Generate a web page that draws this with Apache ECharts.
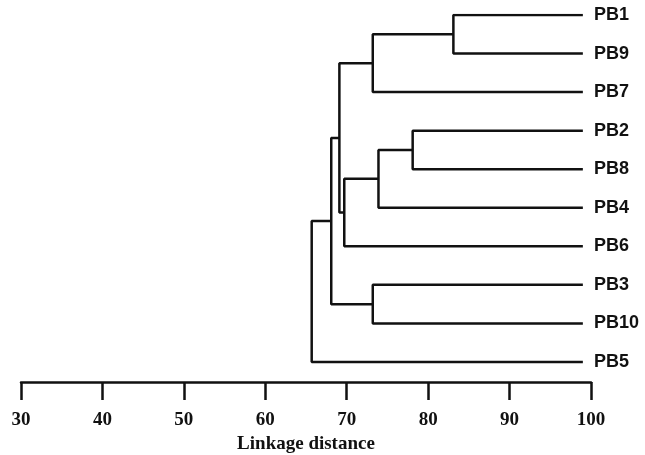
<!DOCTYPE html>
<html>
<head>
<meta charset="utf-8">
<script src="https://cdn.jsdelivr.net/npm/echarts@6/dist/echarts.min.js"></script>
<style>
  html, body { margin: 0; padding: 0; background: #fff; }
  #main { width: 645px; height: 455px; }
</style>
</head>
<body>
<div id="main"></div>
<script>
// leaves, top to bottom
var leafNames = ['PB1', 'PB9', 'PB7', 'PB2', 'PB8', 'PB4', 'PB6', 'PB3', 'PB10', 'PB5'];
var leafEnd = 99;
// merges: index < 10 is a leaf, 10+ is an earlier merge
var mergeLeft   = [0, 10, 3, 12, 13, 11, 7, 15, 17];
var mergeRight  = [1, 2, 4, 5, 6, 14, 8, 16, 9];
var mergeHeight = [83.1, 73.2, 78.1, 73.9, 69.7, 69.1, 73.2, 68.1, 65.7];
var xTicks = [30, 100, 10];

var nodeX = [], nodeY = [];
for (var i = 0; i < leafNames.length; i++) { nodeX.push(leafEnd); nodeY.push(i); }

var series = [];
for (var m = 0; m < mergeHeight.length; m++) {
    var a = mergeLeft[m], b = mergeRight[m], h = mergeHeight[m];
    series.push({
        type: 'line',
        symbol: 'none',
        silent: true,
        lineStyle: { color: '#111', width: 2.5 },
        data: [[nodeX[a], nodeY[a]], [h, nodeY[a]], [h, nodeY[b]], [nodeX[b], nodeY[b]]]
    });
    nodeX.push(h);
    nodeY.push((nodeY[a] + nodeY[b]) / 2);
}

var myChart = echarts.init(document.getElementById('main'));
var option = {
    animation: false,
    grid: { left: 21, right: 54, top: 15, bottom: 73, outerBoundsMode: 'none' },
    xAxis: {
        type: 'value',
        position: 'bottom',
        min: xTicks[0],
        max: xTicks[1],
        interval: xTicks[2],
        name: 'Linkage distance',
        nameLocation: 'middle',
        nameGap: 52,
        nameTextStyle: { fontFamily: 'Liberation Serif', fontWeight: 'bold', fontSize: 19, color: '#111' },
        axisLine: { onZero: false, lineStyle: { color: '#111', width: 2.5 } },
        axisTick: { inside: false, length: 18, lineStyle: { color: '#111', width: 2.5 } },
        axisLabel: { margin: 29, fontFamily: 'Liberation Serif', fontWeight: 'bold', fontSize: 19, color: '#111' },
        splitLine: { show: false }
    },
    yAxis: {
        type: 'value',
        inverse: true,
        position: 'right',
        min: 0,
        max: 9.52,
        interval: 1,
        axisLine: { show: false },
        axisTick: { show: false },
        splitLine: { show: false },
        axisLabel: {
            margin: 3,
            fontFamily: 'Liberation Sans',
            fontWeight: 'bold',
            fontSize: 18,
            color: '#111',
            formatter: function (v) {
                return Number.isInteger(v) && leafNames[v] ? leafNames[v] : '';
            }
        }
    },
    series: series
};
myChart.setOption(option);
</script>
</body>
</html>
